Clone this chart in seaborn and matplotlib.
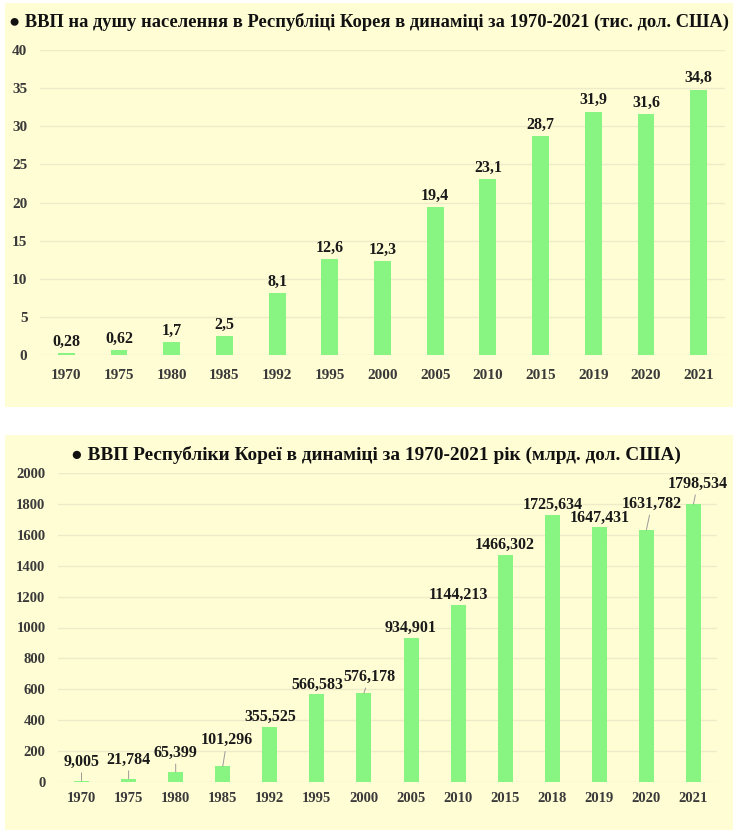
import matplotlib
matplotlib.use("Agg")
import matplotlib.pyplot as plt
from matplotlib.patches import Rectangle
import seaborn as sns
import pandas as pd

# ---- data ----
years_pc = ["1970", "1975", "1980", "1985", "1992", "1995", "2000", "2005",
            "2010", "2015", "2019", "2020", "2021"]
gdp_pc = [0.28, 0.62, 1.7, 2.5, 8.1, 12.6, 12.3, 19.4, 23.1, 28.7, 31.9, 31.6, 34.8]
gdp_pc_labels = ["0,28", "0,62", "1,7", "2,5", "8,1", "12,6", "12,3", "19,4",
                 "23,1", "28,7", "31,9", "31,6", "34,8"]

years_gdp = ["1970", "1975", "1980", "1985", "1992", "1995", "2000", "2005",
             "2010", "2015", "2018", "2019", "2020", "2021"]
gdp = [9.005, 21.784, 65.399, 101.296, 355.525, 566.583, 576.178, 934.901,
       1144.213, 1466.302, 1725.634, 1647.431, 1631.782, 1798.534]
gdp_labels = ["9,005", "21,784", "65,399", "101,296", "355,525", "566,583",
              "576,178", "934,901", "1144,213", "1466,302", "1725,634",
              "1647,431", "1631,782", "1798,534"]

title_top = "● ВВП на душу населення в Республіці Корея в динаміці за 1970-2021 (тис. дол. США)"
title_bot = "● ВВП Республіки Кореї в динаміці за 1970-2021 рік (млрд. дол. США)"

# ---- style ----
sns.set_theme(style="white")
plt.rcParams["font.family"] = ["Liberation Serif", "DejaVu Serif"]
plt.rcParams["font.weight"] = "bold"

BG = "#FFFDD4"
BAR = "#88F582"
GRID = "#EEEBC9"
TICK = "#3a3a3a"
W, H = 737, 835

fig = plt.figure(figsize=(W / 100, H / 100), dpi=100)
fig.patch.set_facecolor("white")

def fbox(x0, y0, x1, y1):
    # pixel box (top-left origin) -> figure fraction [l, b, w, h]
    return [x0 / W, 1 - y1 / H, (x1 - x0) / W, (y1 - y0) / H]

for (x0, y0, x1, y1) in [(5, 3, 733, 407), (5, 435, 733, 830)]:
    l, b, w, h = fbox(x0, y0, x1, y1)
    fig.patches.append(Rectangle((l, b), w, h, transform=fig.transFigure,
                                 facecolor=BG, edgecolor="none", zorder=-5))

def style_axes(ax, ylim, yticks, xpad, ypad, size):
    ax.set_facecolor("none")
    ax.set_ylim(*ylim)
    ax.set_yticks(yticks)
    ax.set_yticklabels([str(t) for t in yticks])
    for s in ax.spines.values():
        s.set_visible(False)
    ax.grid(axis="y", color=GRID, linewidth=1)
    ax.set_axisbelow(True)
    ax.tick_params(axis="both", length=0, labelsize=size, labelcolor=TICK)
    ax.tick_params(axis="x", pad=xpad)
    ax.tick_params(axis="y", pad=ypad)
    for lab in ax.get_xticklabels() + ax.get_yticklabels():
        lab.set_fontweight("bold")
    ax.set_xlabel("")
    ax.set_ylabel("")

# ---- top chart ----
ax1 = fig.add_axes(fbox(40, 50, 725, 355))
df1 = pd.DataFrame({"year": years_pc, "value": gdp_pc})
sns.barplot(data=df1, x="year", y="value", ax=ax1, color=BAR, saturation=1,
            width=0.32, order=years_pc, linewidth=0, edgecolor="none")
style_axes(ax1, (0, 40), list(range(0, 41, 5)), 10, 9, 11)
ax1.set_xlim(-0.5, len(years_pc) - 0.5)
for i, (v, t) in enumerate(zip(gdp_pc, gdp_pc_labels)):
    ax1.annotate(t, (i, v), xytext=(0, 2.5), textcoords="offset points",
                 ha="center", va="bottom", fontsize=11.5, fontweight="bold",
                 color="#1a1a1a")

fig.text(369 / W, 1 - 22 / H, title_top, ha="center", va="center",
         fontsize=13.3, fontweight="bold", color="#111111")

# ---- bottom chart ----
ax2 = fig.add_axes(fbox(58, 473, 717, 782))
df2 = pd.DataFrame({"year": years_gdp, "value": gdp})
sns.barplot(data=df2, x="year", y="value", ax=ax2, color=BAR, saturation=1,
            width=0.32, order=years_gdp, linewidth=0, edgecolor="none")
style_axes(ax2, (0, 2000), list(range(0, 2001, 200)), 7, 9, 10.5)
ax2.set_xlim(-0.5, len(years_gdp) - 0.5)

# label offsets (points) for labels placed away from their bars with leader lines
offsets = {0: (0, 8), 1: (0, 8), 2: (0, 8), 3: (3, 13), 6: (4, 6),
           12: (4, 13), 13: (3, 9)}
for i, (v, t) in enumerate(zip(gdp, gdp_labels)):
    if i in offsets:
        dx, dy = offsets[i]
        ax2.annotate(t, (i, v), xytext=(dx, dy), textcoords="offset points",
                     ha="center", va="bottom", fontsize=11.5, fontweight="bold",
                     color="#1a1a1a",
                     arrowprops=dict(arrowstyle="-", color="#9a9a9a", lw=0.7,
                                     shrinkA=0, shrinkB=0))
    else:
        ax2.annotate(t, (i, v), xytext=(0, 1.5), textcoords="offset points",
                     ha="center", va="bottom", fontsize=11.5, fontweight="bold",
                     color="#1a1a1a")

fig.text(376 / W, 1 - 455 / H, title_bot, ha="center", va="center",
         fontsize=13.9, fontweight="bold", color="#111111")

fig.savefig("out.png", dpi=100)
